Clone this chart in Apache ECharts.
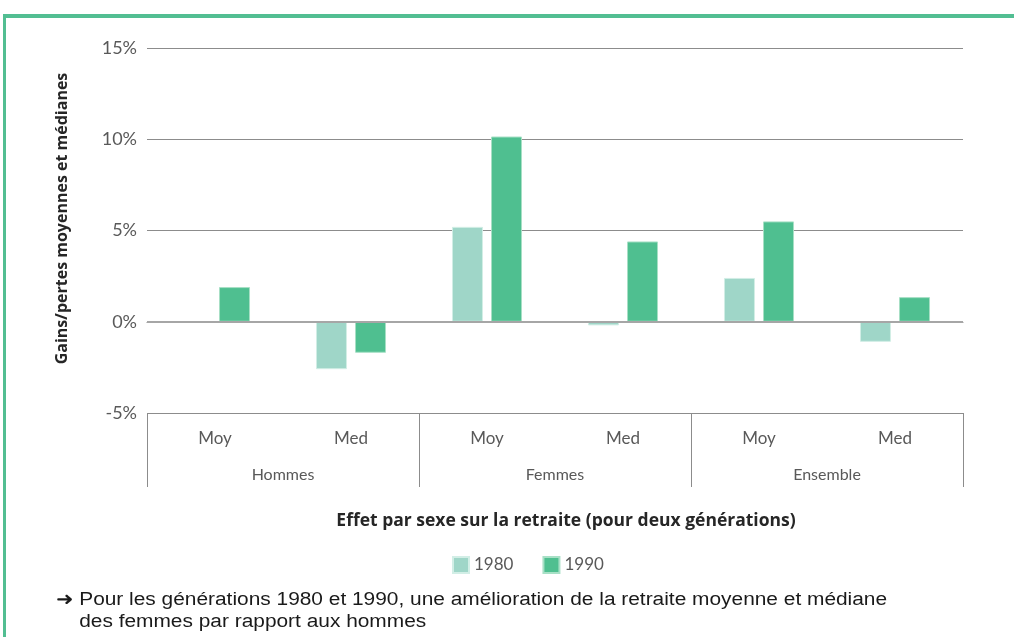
<!DOCTYPE html>
<html>
<head>
<meta charset="utf-8">
<script src="https://cdn.jsdelivr.net/npm/echarts@6/dist/echarts.min.js"></script>
<style>
	html, body { margin: 0; padding: 0; background: #fff; }
	#frame { position: absolute; left: 3px; top: 14px; width: 1020px; height: 640px; border-top: 4px solid #52be92; border-left: 3px solid #52be92; }
	#main { position: absolute; left: 0; top: 0; width: 1014px; height: 637px; }
</style>
</head>
<body>
<div id="frame"></div>
<div id="main"></div>
<script>
"use strict";

var categories = ['Moy', 'Med', 'Moy', 'Med', 'Moy', 'Med'];
var groups = ['Hommes', 'Femmes', 'Ensemble'];
var values1980 = [-0.03, -2.6, 5.2, -0.2, 2.4, -1.1];
var values1990 = [1.9, -1.7, 10.15, 4.4, 5.5, 1.35];
var yTicks = [-5, 0, 5, 10, 15];

var LIGHT = '#9fd6c8';
var DARK = '#4fbf90';
var FONT = 'Lato';
var BOLD_FONT = 'Open Sans';

var chart = echarts.init(document.getElementById('main'));

chart.setOption({
	animation: false,
	title: {
		text: 'Effet par sexe sur la retraite (pour deux générations)',
		left: 561,
		top: 507,
		textAlign: 'center',
		textStyle: { fontFamily: BOLD_FONT, fontSize: 17.5, fontWeight: 'bold', color: '#262626' }
	},
	legend: {
		data: ['1980', '1990'],
		left: 452,
		top: 556,
		padding: 0,
		itemWidth: 16,
		itemHeight: 16,
		itemGap: 29,
		icon: 'rect',
		textStyle: { fontFamily: FONT, fontSize: 17, color: '#595959', padding: [3, 0, 0, 0] }
	},
	grid: {
		left: 147,
		right: 51,
		top: 48,
		bottom: 224
	},
	xAxis: [{
		type: 'category',
		data: categories,
		axisLine: { show: true, lineStyle: { color: '#8c8c8c' } },
		axisTick: { show: false },
		axisLabel: { margin: 17, fontFamily: FONT, fontSize: 17, color: '#595959' }
	}, {
		type: 'category',
		data: groups,
		position: 'bottom',
		axisLine: { show: false },
		axisTick: { show: true, length: 74, lineStyle: { color: '#8c8c8c' } },
		axisLabel: { margin: 54, fontFamily: FONT, fontSize: 16, color: '#595959' }
	}],
	yAxis: {
		type: 'value',
		min: yTicks[0],
		max: yTicks[yTicks.length - 1],
		interval: 5,
		name: 'Gains/pertes moyennes et médianes',
		nameLocation: 'middle',
		nameGap: 77,
		nameRotate: 90,
		nameTextStyle: { fontFamily: BOLD_FONT, fontSize: 16, fontWeight: 'bold', color: '#262626', padding: [0, 0, 0, 24] },
		axisLine: { show: false },
		axisTick: { show: false },
		axisLabel: {
			margin: 10,
			fontFamily: FONT,
			fontSize: 18,
			color: '#595959',
			formatter: function(v) { return v + '%'; }
		},
		splitLine: { lineStyle: { color: '#8c8c8c', width: 1 } }
	},
	series: [{
		name: '1980',
		type: 'bar',
		data: values1980,
		barWidth: 31,
		barGap: '26%',
		itemStyle: { color: LIGHT, borderColor: '#d2eee6', borderWidth: 1 },
		markLine: {
			silent: true,
			symbol: 'none',
			label: { show: false },
			lineStyle: { color: '#a6a6a6', width: 2, type: 'solid' },
			data: [{ yAxis: 0 }]
		}
	}, {
		name: '1990',
		type: 'bar',
		data: values1990,
		barWidth: 31,
		barGap: '26%',
		itemStyle: { color: DARK, borderColor: '#a8e0c6', borderWidth: 1 }
	}],
	graphic: [{
		type: 'text',
		x: 56,
		y: 589,
		scaleX: 1.16,
		style: {
			text: '➜ Pour les générations 1980 et 1990, une amélioration de la retraite moyenne et médiane\n    des femmes par rapport aux hommes',
			font: '18px "Liberation Sans"',
			lineHeight: 22,
			fill: '#1a1a1a'
		}
	}]
});
</script>
</body>
</html>
